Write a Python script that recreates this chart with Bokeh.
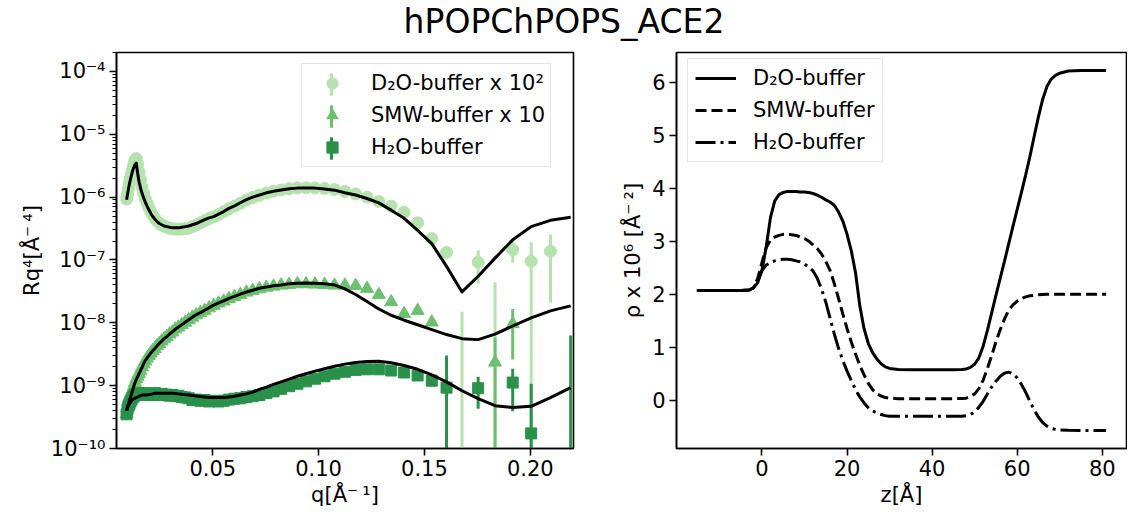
from bokeh.plotting import figure
from bokeh.layouts import column, row
from bokeh.models import (Range1d, FixedTicker, CustomJSTickFormatter, PrintfTickFormatter,
                          Legend, LegendItem, Label)
from bokeh.embed import file_html
from bokeh.resources import INLINE

nan = float("nan")

# ---------------- left panel data: reflectivity * q^4 ----------------
q = [0.00930, 0.00972, 0.01017, 0.01063, 0.01111, 0.01162, 0.01215, 0.01270, 0.01328, 0.01388,
     0.01451, 0.01517, 0.01586, 0.01659, 0.01734, 0.01813, 0.01895, 0.01982, 0.02072, 0.02166,
     0.02265, 0.02368, 0.02475, 0.02588, 0.02706, 0.02829, 0.02958, 0.03092, 0.03233, 0.03380,
     0.03534, 0.03695, 0.03863, 0.04039, 0.04222, 0.04414, 0.04615, 0.04825, 0.05045, 0.05274,
     0.05514, 0.05765, 0.06028, 0.06302, 0.06589, 0.06888, 0.07202, 0.07530, 0.07872, 0.08230,
     0.08605, 0.08996, 0.09406, 0.09834, 0.10281, 0.10749, 0.11238, 0.11749, 0.12284, 0.12843,
     0.13427, 0.14038, 0.14677, 0.15345, 0.16043, 0.16773, 0.17536, 0.18334, 0.19168, 0.20041,
     0.20952, 0.21906]

d2o_R = [9.3e-7, 1.12e-6, 1.38e-6, 1.66e-6, 1.97e-6, 2.32e-6, 2.75e-6, 3.3e-6, 3.9e-6, 4.1e-6,
         3.3e-6, 2.5e-6, 1.9e-6, 1.45e-6, 1.15e-6, 9.4e-7, 8.0e-7, 6.8e-7, 5.9e-7, 5.1e-7,
         4.6e-7, 4.15e-7, 3.85e-7, 3.6e-7, 3.45e-7, 3.3e-7, 3.2e-7, 3.15e-7, 3.1e-7, 3.1e-7,
         3.1e-7, 3.15e-7, 3.2e-7, 3.4e-7, 3.6e-7, 3.9e-7, 4.2e-7, 4.55e-7, 4.85e-7, 5.3e-7,
         5.85e-7, 6.5e-7, 7.2e-7, 8.0e-7, 9.0e-7, 9.9e-7, 1.07e-6, 1.16e-6, 1.24e-6, 1.30e-6,
         1.36e-6, 1.40e-6, 1.41e-6, 1.40e-6, 1.37e-6, 1.32e-6, 1.23e-6, 1.12e-6, 1.0e-6, 8.5e-7,
         7.2e-7, 5.75e-7, 3.9e-7, 2.19e-7, 1.32e-7, -2e-9, 9.2e-8, -3e-8, 1.45e-7, 9.5e-8,
         1.38e-7, nan]
d2o_err = [0] * 65 + [1.7e-8, 5.0e-8, 7.4e-8, 5.5e-8, 9.6e-8, 1.17e-7, 0]
d2o_fit = [9.1e-7, 1.10e-6, 1.35e-6, 1.62e-6, 1.91e-6, 2.24e-6, 2.63e-6, 2.95e-6, 3.31e-6, 3.47e-6,
           2.40e-6, 1.78e-6, 1.41e-6, 1.15e-6, 9.8e-7, 8.3e-7, 7.2e-7, 6.3e-7, 5.5e-7, 4.9e-7,
           4.47e-7, 4.07e-7, 3.80e-7, 3.63e-7, 3.47e-7, 3.39e-7, 3.31e-7, 3.24e-7, 3.24e-7, 3.24e-7,
           3.31e-7, 3.39e-7, 3.47e-7, 3.63e-7, 3.80e-7, 4.07e-7, 4.37e-7, 4.68e-7, 4.90e-7, 5.37e-7,
           5.89e-7, 6.61e-7, 7.24e-7, 8.13e-7, 9.12e-7, 1.00e-6, 1.08e-6, 1.17e-6, 1.24e-6, 1.30e-6,
           1.36e-6, 1.39e-6, 1.40e-6, 1.39e-6, 1.35e-6, 1.29e-6, 1.17e-6, 1.08e-6, 9.5e-7, 8.1e-7,
           6.2e-7, 4.6e-7, 2.95e-7, 1.82e-7, 7.9e-8, 3.1e-8, 5.5e-8, 1.07e-7, 2.09e-7, 3.39e-7,
           4.27e-7, 4.79e-7]

smw_R = [3.5e-10, 4.4e-10, 5.0e-10, 5.7e-10, 6.6e-10, 7.5e-10, 8.6e-10, 9.8e-10, 1.12e-9, 1.27e-9,
         1.40e-9, 1.55e-9, 1.72e-9, 1.97e-9, 2.2e-9, 2.45e-9, 2.72e-9, 2.98e-9, 3.28e-9, 3.6e-9,
         3.85e-9, 4.3e-9, 4.65e-9, 5.1e-9, 5.55e-9, 6.0e-9, 6.6e-9, 7.1e-9, 7.9e-9, 8.5e-9,
         9.3e-9, 1.01e-8, 1.11e-8, 1.22e-8, 1.33e-8, 1.45e-8, 1.57e-8, 1.72e-8, 1.88e-8, 2.05e-8,
         2.2e-8, 2.42e-8, 2.6e-8, 2.8e-8, 3.05e-8, 3.25e-8, 3.45e-8, 3.65e-8, 3.8e-8, 3.95e-8,
         4.05e-8, 4.15e-8, 4.15e-8, 4.1e-8, 4.05e-8, 3.95e-8, 3.95e-8, 3.9e-8, 3.5e-8, 2.8e-8,
         2.15e-8, 1.39e-8, 1.56e-8, 1.02e-8, nan, nan, nan, 2.35e-9, 9.6e-9, nan,
         nan, nan]
smw_err = [0] * 67 + [3.5e-9, 7.0e-9, 0, 0, 0]
smw_fit = [4.0e-10, 4.6e-10, 5.1e-10, 5.75e-10, 6.5e-10, 7.4e-10, 8.5e-10, 9.8e-10, 1.12e-9, 1.26e-9,
           1.38e-9, 1.55e-9, 1.74e-9, 1.95e-9, 2.24e-9, 2.51e-9, 2.75e-9, 3.0e-9, 3.3e-9, 3.6e-9,
           3.9e-9, 4.3e-9, 4.7e-9, 5.1e-9, 5.6e-9, 6.0e-9, 6.6e-9, 7.2e-9, 7.9e-9, 8.6e-9,
           9.3e-9, 1.02e-8, 1.12e-8, 1.23e-8, 1.35e-8, 1.45e-8, 1.58e-8, 1.74e-8, 1.91e-8, 2.07e-8,
           2.24e-8, 2.45e-8, 2.63e-8, 2.85e-8, 3.09e-8, 3.3e-8, 3.55e-8, 3.7e-8, 3.9e-8, 4.0e-8,
           4.2e-8, 4.27e-8, 4.3e-8, 4.27e-8, 4.17e-8, 4.0e-8, 3.47e-8, 2.82e-8, 2.19e-8, 1.66e-8,
           1.32e-8, 1.10e-8, 9.3e-9, 7.8e-9, 6.5e-9, 5.6e-9, 5.4e-9, 6.6e-9, 8.9e-9, 1.2e-8,
           1.55e-8, 1.86e-8]

h2o_R = [3.5e-10, 4.2e-10, 4.7e-10, 5.1e-10, 5.6e-10, 6.0e-10, 6.5e-10, 6.8e-10, 7.1e-10, 7.4e-10,
         7.2e-10, 7.6e-10, 7.4e-10, 7.1e-10, 7.6e-10, 7.2e-10, 7.4e-10, 7.1e-10, 7.4e-10, 7.2e-10,
         7.6e-10, 7.1e-10, 7.2e-10, 7.4e-10, 7.1e-10, 7.2e-10, 6.9e-10, 7.1e-10, 6.8e-10, 6.9e-10,
         6.6e-10, 6.5e-10, 6.3e-10, 5.9e-10, 6.0e-10, 5.75e-10, 5.9e-10, 5.6e-10, 5.75e-10, 5.6e-10,
         5.75e-10, 6.0e-10, 6.2e-10, 6.3e-10, 6.6e-10, 6.8e-10, 7.1e-10, 7.6e-10, 8.1e-10, 8.9e-10,
         9.8e-10, 1.07e-9, 1.17e-9, 1.29e-9, 1.41e-9, 1.55e-9, 1.66e-9, 1.78e-9, 1.82e-9, 1.82e-9,
         1.74e-9, 1.62e-9, 1.45e-9, 1.20e-9, 9.3e-10, nan, 9.1e-10, nan, 1.12e-9, 1.74e-10,
         nan, -2e-9]
h2o_err = [0] * 64 + [2.1e-9, 0, 4.8e-10, 0, 7.3e-10, 9.0e-10, 0, 8.3e-9]
h2o_fit = [4.0e-10, 4.4e-10, 4.8e-10, 5.1e-10, 5.5e-10, 5.75e-10, 6.0e-10, 6.2e-10, 6.3e-10, 6.45e-10,
           6.6e-10, 6.8e-10, 6.9e-10, 7.1e-10, 7.1e-10, 7.1e-10, 7.1e-10, 7.2e-10, 7.3e-10, 7.4e-10,
           7.6e-10, 7.6e-10, 7.6e-10, 7.6e-10, 7.6e-10, 7.6e-10, 7.6e-10, 7.6e-10, 7.5e-10, 7.4e-10,
           7.3e-10, 7.2e-10, 7.1e-10, 7.0e-10, 6.85e-10, 6.7e-10, 6.6e-10, 6.5e-10, 6.45e-10, 6.45e-10,
           6.5e-10, 6.6e-10, 6.8e-10, 7.1e-10, 7.4e-10, 7.9e-10, 8.7e-10, 9.5e-10, 1.05e-9, 1.15e-9,
           1.27e-9, 1.41e-9, 1.55e-9, 1.70e-9, 1.86e-9, 2.04e-9, 2.2e-9, 2.34e-9, 2.43e-9, 2.45e-9,
           2.32e-9, 2.09e-9, 1.82e-9, 1.48e-9, 1.15e-9, 8.3e-10, 6.2e-10, 4.8e-10, 4.5e-10, 4.7e-10,
           6.45e-10, 9.3e-10]

labels_left = ["D\u2082O-buffer x 10\u00b2", "SMW-buffer x 10", "H\u2082O-buffer"]
colors = ["#b5e2ae", "#6cc070", "#2a914a"]

# ---------------- right panel data: SLD profiles ----------------
z = [-15.3, -10, -5, -3, -2, -1, 0, 1, 2, 3, 4, 5, 6, 7, 8, 9, 10, 11, 12, 13, 14, 15, 16, 17,
     18, 19, 20, 21, 22, 23, 24, 25, 26, 27, 28, 29, 30, 32, 35, 40, 45, 47, 48, 49, 50, 51,
     52, 53, 54, 55, 56, 57, 58, 59, 60, 61, 62, 63, 64, 65, 66, 67, 68, 69, 70, 72, 75, 80.9]
rho_d2o = [2.07, 2.07, 2.07, 2.08, 2.12, 2.22, 2.45, 2.9, 3.45, 3.76, 3.88, 3.92, 3.94, 3.94, 3.94,
           3.93, 3.93, 3.92, 3.9, 3.87, 3.83, 3.78, 3.74, 3.68, 3.55, 3.38, 3.13, 2.82, 2.4, 1.78,
           1.35, 1.07, 0.9, 0.78, 0.69, 0.63, 0.6, 0.58, 0.575, 0.575, 0.575, 0.58, 0.59, 0.62,
           0.68, 0.8, 1.02, 1.32, 1.65, 1.98, 2.3, 2.62, 2.95, 3.28, 3.6, 3.92, 4.25, 4.6, 4.98,
           5.35, 5.68, 5.92, 6.06, 6.13, 6.17, 6.21, 6.22, 6.22]
rho_smw = [2.07, 2.07, 2.07, 2.08, 2.12, 2.3, 2.6, 2.88, 3.02, 3.08, 3.11, 3.13, 3.13, 3.12, 3.11,
           3.08, 3.05, 3.0, 2.93, 2.86, 2.76, 2.62, 2.45, 2.2, 1.92, 1.63, 1.35, 1.1, 0.87, 0.66,
           0.48, 0.32, 0.2, 0.12, 0.08, 0.05, 0.04, 0.03, 0.03, 0.03, 0.03, 0.035, 0.04, 0.07,
           0.12, 0.22, 0.38, 0.6, 0.84, 1.1, 1.33, 1.53, 1.7, 1.8, 1.87, 1.92, 1.95, 1.97, 1.98,
           1.99, 1.995, 2.0, 2.0, 2.0, 2.0, 2.0, 2.0, 2.0]
rho_h2o = [2.07, 2.07, 2.07, 2.08, 2.12, 2.25, 2.45, 2.55, 2.6, 2.63, 2.65, 2.66, 2.66, 2.65, 2.63,
           2.61, 2.57, 2.51, 2.44, 2.3, 2.1, 1.85, 1.55, 1.25, 0.98, 0.75, 0.55, 0.37, 0.2, 0.06,
           -0.05, -0.14, -0.2, -0.24, -0.27, -0.29, -0.3, -0.3, -0.3, -0.3, -0.3, -0.3, -0.29,
           -0.27, -0.22, -0.13, -0.02, 0.12, 0.25, 0.36, 0.45, 0.51, 0.53, 0.5, 0.42, 0.3, 0.15,
           -0.02, -0.18, -0.32, -0.42, -0.49, -0.53, -0.55, -0.56, -0.565, -0.57, -0.57]
labels_right = ["D\u2082O-buffer", "SMW-buffer", "H\u2082O-buffer"]
dashes_right = ["solid", "11 5", "20 5 3 5"]

FONT = "DejaVu Sans"
FS = "21px"
FH = 396


def style_axes(p):
    p.outline_line_color = "black"
    p.outline_line_width = 1.6
    p.xgrid.visible = False
    p.ygrid.visible = False
    for ax in (p.xaxis[0], p.yaxis[0]):
        ax.axis_line_width = 1.6
        ax.major_tick_line_width = 1.6
        ax.major_tick_out = 7
        ax.major_tick_in = 0
        ax.minor_tick_out = 4
        ax.minor_tick_in = 0
        ax.minor_tick_line_width = 1.1
        ax.major_label_text_font = FONT
        ax.major_label_text_font_size = FS
        ax.major_label_text_color = "black"
        ax.major_label_standoff = 4
        ax.axis_label_text_font = FONT
        ax.axis_label_text_font_size = FS
        ax.axis_label_text_font_style = "normal"
        ax.axis_label_text_color = "black"
        ax.axis_label_standoff = 4


# ---------------- title ----------------
tp = figure(width=1127, height=44, toolbar_location=None, output_backend="svg",
            x_range=Range1d(0, 1), y_range=Range1d(0, 1), title=None,
            x_axis_location=None, y_axis_location=None, min_border=0)
tp.outline_line_color = None
tp.xgrid.visible = False
tp.ygrid.visible = False
tp.add_layout(Label(x=0.5, y=0.52, text="hPOPChPOPS_ACE2", text_align="center",
                    text_baseline="middle", text_font=FONT, text_font_size="33px",
                    text_color="black"))

# ---------------- left panel ----------------
p1 = figure(frame_width=457, frame_height=FH, min_border_left=116, min_border_right=27,
            min_border_top=8, min_border_bottom=64, y_axis_type="log",
            x_range=Range1d(0.00453, 0.2204), y_range=Range1d(1e-10, 2.0e-4),
            toolbar_location=None, output_backend="svg", title=None)
style_axes(p1)
p1.xaxis[0].ticker = FixedTicker(ticks=[0.05, 0.10, 0.15, 0.20])
p1.xaxis[0].formatter = PrintfTickFormatter(format="%.2f")
decades = [10.0 ** e for e in range(-10, -3)]
minors = [k * 10.0 ** e for e in range(-10, -3) for k in range(2, 10)]
p1.yaxis[0].ticker = FixedTicker(ticks=decades, minor_ticks=minors)
p1.yaxis[0].formatter = CustomJSTickFormatter(code="""
const e = Math.round(Math.log10(tick));
const m = {'-': '\u207b', '0': '\u2070', '1': '\u00b9', '2': '\u00b2', '3': '\u00b3',
           '4': '\u2074', '5': '\u2075', '6': '\u2076', '7': '\u2077', '8': '\u2078', '9': '\u2079'};
return '10' + String(e).split('').map(c => m[c]).join('');
""")
p1.xaxis[0].axis_label = "q[\u00c5\u207b\u2009\u00b9]"
p1.yaxis[0].axis_label = "Rq\u2074[\u00c5\u207b\u2009\u2074]"

series = [(d2o_R, d2o_err, "circle", 12), (smw_R, smw_err, "triangle", 13), (h2o_R, h2o_err, "square", 11)]
scatters = []
bars = []
for (R, E, mk, sz), col in zip(series, colors):
    xs, lo, hi = [], [], []
    for x, r, e in zip(q, R, E):
        if r != r or e <= 0:
            continue
        l = r - e
        if l <= 0:
            l = 1e-13
        xs.append(x)
        lo.append(l)
        hi.append(r + e)
    bars.append(p1.vbar(x=xs, bottom=lo, top=hi, width=0.00142, fill_color=col, line_color=None))
    mx = [x for x, r in zip(q, R) if r == r and r > 0]
    my = [r for r in R if r == r and r > 0]
    scatters.append(p1.scatter(mx, my, marker=mk, size=sz, fill_color=col, line_color=col))

for fit in (d2o_fit, smw_fit, h2o_fit):
    p1.line(q, fit, line_color="black", line_width=3, line_join="round")

leg_y = FH - 11 - 104
leg1 = Legend(items=[LegendItem(label=l, renderers=[s]) for l, s in zip(labels_left, scatters)],
              location=(185, leg_y), padding=5, spacing=4, glyph_width=50, glyph_height=28,
              label_standoff=14, label_text_font=FONT, label_text_font_size=FS,
              label_text_color="black",
              border_line_color="#cccccc", border_line_width=1.2, background_fill_alpha=0.8)
leg1b = Legend(items=[LegendItem(label=" ", renderers=[b]) for b in bars],
               location=(185 + 23, leg_y), padding=5, spacing=4, glyph_width=4, glyph_height=28,
               label_standoff=2, label_text_font=FONT, label_text_font_size=FS,
               border_line_alpha=0, background_fill_alpha=0)
p1.add_layout(leg1)
p1.add_layout(leg1b)

# ---------------- right panel ----------------
p2 = figure(frame_width=450, frame_height=FH, min_border_left=76, min_border_right=1,
            min_border_top=8, min_border_bottom=64,
            x_range=Range1d(-20.1, 85.7), y_range=Range1d(-0.91, 6.56),
            toolbar_location=None, output_backend="svg", title=None)
style_axes(p2)
p2.xaxis[0].ticker = FixedTicker(ticks=[0, 20, 40, 60, 80])
p2.yaxis[0].ticker = FixedTicker(ticks=[0, 1, 2, 3, 4, 5, 6])
p2.xaxis[0].axis_label = "z[\u00c5]"
p2.yaxis[0].axis_label = "\u03c1 x 10\u2076 [\u00c5\u207b\u2009\u00b2]"

lines = []
for rho, dash in zip((rho_d2o, rho_smw, rho_h2o), dashes_right):
    lines.append(p2.line(z, rho, line_color="black", line_width=3, line_dash=dash))

leg2 = Legend(items=[LegendItem(label=l, renderers=[r]) for l, r in zip(labels_right, lines)],
              location=(11, FH - 8 - 102), padding=7, spacing=8, glyph_width=41, glyph_height=24,
              label_standoff=17, label_text_font=FONT, label_text_font_size=FS,
              label_text_color="black",
              border_line_color="#cccccc", border_line_width=1.2, background_fill_alpha=0.8)
p2.add_layout(leg2)

layout = column(tp, row(p1, p2))
open("out.html", "w").write(file_html(layout, INLINE))
